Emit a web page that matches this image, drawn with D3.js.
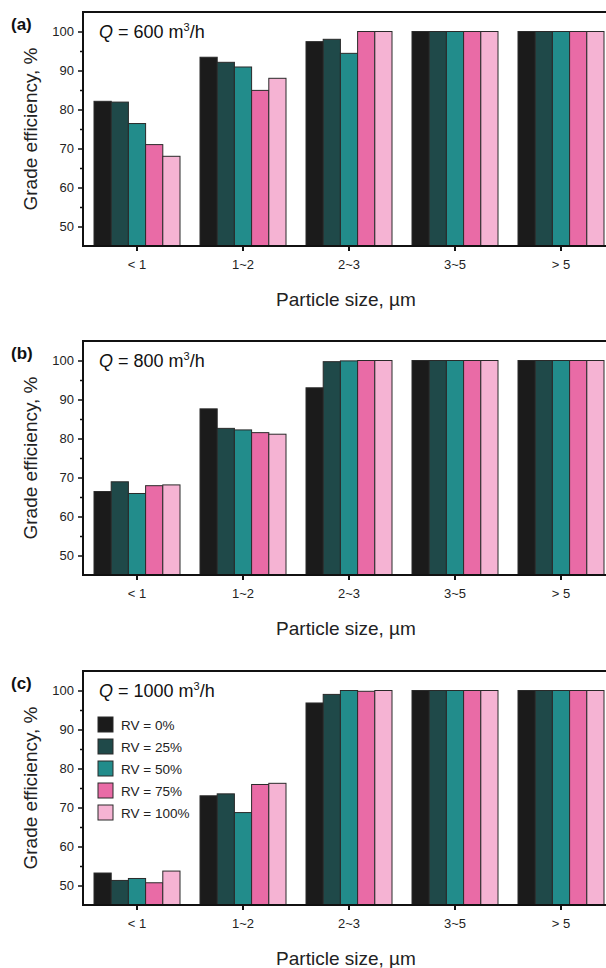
<!DOCTYPE html>
<html>
<head>
<meta charset="utf-8">
<script src="https://cdn.jsdelivr.net/npm/d3@7"></script>
<style>
  html, body { margin: 0; padding: 0; background: #fff; }
  svg { display: block; font-family: "Liberation Sans", Arial, Helvetica, sans-serif; }
</style>
</head>
<body>
<svg id="chart" width="606" height="968"></svg>
<script>
// ---- data ----
const categories = ["< 1", "1~2", "2~3", "3~5", "> 5"];
const seriesNames = ["RV = 0%", "RV = 25%", "RV = 50%", "RV = 75%", "RV = 100%"];
const seriesColors = ["#1b1b1b", "#1f4949", "#228c8b", "#e96ba6", "#f5b3d3"];
const yTicks = [50, 60, 70, 80, 90, 100];
const yMinorTicks = [55, 65, 75, 85, 95];
const yDomain = [45, 105];
const panelLabels = ["(a)", "(b)", "(c)"];
const flowRates = ["600", "800", "1000"];

// values[series][category]
const valuesQ600 = [
  [82.1, 93.4, 97.4, 100, 100],
  [81.9, 92.1, 98.0, 100, 100],
  [76.4, 90.9, 94.4, 100, 100],
  [71.0, 84.9, 100, 100, 100],
  [68.0, 88.0, 100, 100, 100]
];
const valuesQ800 = [
  [66.4, 87.6, 93.0, 100, 100],
  [68.9, 82.6, 99.7, 100, 100],
  [65.9, 82.2, 99.9, 100, 100],
  [67.9, 81.5, 100, 100, 100],
  [68.1, 81.1, 100, 100, 100]
];
const valuesQ1000 = [
  [53.2, 73.0, 96.8, 100, 100],
  [51.3, 73.5, 99.0, 100, 100],
  [51.8, 68.7, 100, 100, 100],
  [50.7, 75.9, 99.8, 100, 100],
  [53.7, 76.2, 100, 100, 100]
];
const panelValues = [valuesQ600, valuesQ800, valuesQ1000];

// ---- layout ----
const svg = d3.select("#chart");
const axisX = 83;
const panelTops = [12, 341, 671];
const plotH = 234;

const x = d3.scaleBand().domain(categories).range([84, 614])
  .paddingInner(20 / 106).paddingOuter(10 / 106);
const xs = d3.scaleBand().domain(seriesNames).range([0, x.bandwidth()]).padding(0);

panelValues.forEach((vals, pi) => {
  const top = panelTops[pi];
  const bottom = top + plotH;
  const y = d3.scaleLinear().domain(yDomain).range([bottom, top]);
  const g = svg.append("g");

  // bars
  seriesNames.forEach((s, si) => {
    g.selectAll(null).data(categories).enter().append("rect")
      .attr("x", c => x(c) + xs(s))
      .attr("y", (c, ci) => y(vals[si][ci]))
      .attr("width", xs.bandwidth())
      .attr("height", (c, ci) => bottom - y(vals[si][ci]))
      .attr("fill", seriesColors[si])
      .attr("stroke", "#2a2a2a")
      .attr("stroke-width", 1);
  });

  // y axis
  const yAxis = d3.axisLeft(y).tickValues(yTicks).tickSize(5).tickPadding(4);
  const ya = g.append("g").attr("transform", `translate(${axisX},0)`).call(yAxis);
  ya.select(".domain").remove();
  ya.selectAll(".tick line").attr("stroke", "#111").attr("stroke-width", 1.5);
  ya.selectAll(".tick text").attr("font-size", 13).attr("fill", "#222")
    .attr("font-family", "'Liberation Sans', Arial, sans-serif");
  const yMinor = d3.axisLeft(y).tickValues(yMinorTicks).tickSize(3).tickFormat("");
  const ym = g.append("g").attr("transform", `translate(${axisX},0)`).call(yMinor);
  ym.select(".domain").remove();
  ym.selectAll(".tick line").attr("stroke", "#111").attr("stroke-width", 1.5);

  // x axis
  const xAxis = d3.axisBottom(x).tickSize(5).tickPadding(9);
  const xa = g.append("g").attr("transform", `translate(0,${bottom})`).call(xAxis);
  xa.select(".domain").remove();
  xa.selectAll(".tick line").attr("stroke", "#111").attr("stroke-width", 2);
  xa.selectAll(".tick text").attr("font-size", 13).attr("fill", "#222")
    .attr("font-family", "'Liberation Sans', Arial, sans-serif");

  // frame lines: left, bottom, top
  g.append("line").attr("x1", axisX).attr("x2", axisX).attr("y1", top).attr("y2", bottom + 1)
    .attr("stroke", "#111").attr("stroke-width", 2);
  g.append("line").attr("x1", axisX - 1).attr("x2", 606).attr("y1", bottom).attr("y2", bottom)
    .attr("stroke", "#111").attr("stroke-width", 2);
  g.append("line").attr("x1", axisX - 1).attr("x2", 606).attr("y1", top).attr("y2", top)
    .attr("stroke", "#111").attr("stroke-width", 2);

  // axis titles
  g.append("text").attr("x", 346).attr("y", bottom + 60)
    .attr("text-anchor", "middle").attr("font-size", 19).attr("fill", "#222")
    .text("Particle size, \u00b5m");
  g.append("text")
    .attr("transform", `translate(37,${(top + bottom) / 2}) rotate(-90)`)
    .attr("text-anchor", "middle").attr("font-size", 19).attr("fill", "#222")
    .text("Grade efficiency, %");

  // panel label
  g.append("text").attr("x", 11).attr("y", top + 18)
    .attr("font-size", 17).attr("font-weight", "bold").attr("fill", "#111")
    .text(panelLabels[pi]);

  // Q title
  const t = g.append("text").attr("x", 99).attr("y", top + 26)
    .attr("font-size", 18).attr("fill", "#111");
  t.append("tspan").attr("font-style", "italic").text("Q");
  t.append("tspan").text(` = ${flowRates[pi]} m`);
  t.append("tspan").attr("font-size", 11).attr("dy", -7).text("3");
  t.append("tspan").attr("dy", 7).text("/h");

  // legend (panel c)
  if (pi === 2) {
    const lg = g.append("g").attr("transform", `translate(98,${top + 46})`);
    seriesNames.forEach((s, si) => {
      lg.append("rect").attr("x", 0).attr("y", si * 22).attr("width", 15).attr("height", 15)
        .attr("fill", seriesColors[si]).attr("stroke", "#2a2a2a").attr("stroke-width", 1);
      lg.append("text").attr("x", 23).attr("y", si * 22 + 12.5)
        .attr("font-size", 13.5).attr("fill", "#222").text(s);
    });
  }
});
</script>
</body>
</html>
